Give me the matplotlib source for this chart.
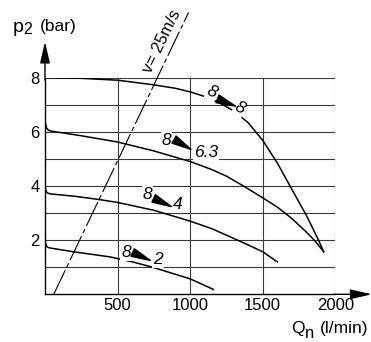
import matplotlib
matplotlib.use('Agg')
import matplotlib.pyplot as plt
from matplotlib.path import Path
from matplotlib.markers import MarkerStyle
from matplotlib.transforms import Affine2D

plt.rcParams['font.family'] = ['Liberation Sans', 'DejaVu Sans']

# pump curves, flow Q (l/min) vs outlet pressure p2 (bar)
q_8 = [0, 250, 500, 750, 900, 1000, 1100, 1200, 1300, 1400, 1500, 1600, 1700, 1800, 1880, 1920]
p_8 = [8.0, 7.97, 7.9, 7.73, 7.6, 7.47, 7.3, 7.07, 6.77, 6.33, 5.68, 4.85, 3.88, 2.92, 2.05, 1.57]

q_63 = [0, 5, 12, 25, 45, 250, 500, 750, 1000, 1150, 1250, 1366, 1500, 1600, 1700, 1800, 1860, 1920]
p_63 = [6.4, 6.25, 6.12, 6.05, 6.02, 5.85, 5.62, 5.29, 4.9, 4.6, 4.36, 4.0, 3.56, 3.22, 2.8, 2.3, 1.97, 1.57]

q_4 = [0, 5, 12, 25, 45, 200, 356, 500, 750, 1000, 1150, 1297, 1400, 1500, 1600]
p_4 = [4.0, 3.86, 3.76, 3.72, 3.70, 3.62, 3.51, 3.39, 3.1, 2.70, 2.42, 2.07, 1.82, 1.57, 1.2]

q_2 = [0, 5, 12, 25, 45, 195, 448, 600, 740, 1000, 1160]
p_2 = [2.0, 1.86, 1.76, 1.72, 1.70, 1.57, 1.38, 1.2, 1.0, 0.57, 0.18]

# velocity line v = 25 m/s
q_v = [60, 989]
p_v = [0, 10.4]

x_ticks = [500, 1000, 1500, 2000]
y_ticks = [2, 4, 6, 8]
y_grid = [1, 2, 3, 4, 5, 6, 7, 8]

# curve labels: (first text, second text, q/p of first, triangle, second, angle)
labels = [
    ('8', '8', (1152, 7.45), (1245, 7.11), (1339, 6.86), 22, -25),
    ('8', '6.3', (838, 5.67), (942, 5.54), (1109, 5.24), 30, 0),
    ('8', '4', (705, 3.70), (807, 3.42), (914, 3.32), 25, 0),
    ('8', '2', (558, 1.535), (661, 1.417), (778, 1.266), 24, 0),
]

fig = plt.figure(figsize=(3.71, 3.42), dpi=100)
ax = fig.add_axes([45 / 371, 47.7 / 342, 290.3 / 371, 216.8 / 342])
ax.set_xlim(0, 2000)
ax.set_ylim(0, 8)

for s in ['top', 'right']:
    ax.spines[s].set_visible(False)
for s in ['left', 'bottom']:
    ax.spines[s].set_linewidth(1.0)
    ax.spines[s].set_zorder(4)

ax.hlines(y_grid, 0, 2000, color='#3a3a3a', lw=0.8, zorder=1)
ax.vlines(x_ticks, 0, 8, color='#3a3a3a', lw=0.8, zorder=1)

ax.set_xticks(x_ticks)
ax.set_xticklabels([str(v) for v in x_ticks])
ax.set_yticks(y_ticks)
ax.set_yticklabels([str(v) for v in y_ticks])
ax.tick_params(length=0, labelsize=12)
ax.tick_params(axis='x', pad=3)
ax.tick_params(axis='y', pad=4)

for q, p in [(q_8, p_8), (q_63, p_63), (q_4, p_4), (q_2, p_2)]:
    ax.plot(q, p, color='black', lw=1.1, zorder=3)

ax.plot(q_v, p_v, color='black', lw=0.8, linestyle=(0, (24, 3, 4, 3)),
        clip_on=False, zorder=2)
ax.text(804, 9.35, 'v= 25m/s', rotation=64, ha='center', va='center',
        rotation_mode='anchor', fontsize=12)

# axis arrows
arrow = dict(arrowstyle='-|>,head_length=1.3,head_width=0.3', color='black',
             lw=1.0, shrinkA=0, shrinkB=0, mutation_scale=10)
ax.annotate('', xy=(0, 9.32), xytext=(0, 7.9), arrowprops=arrow,
            annotation_clip=False)
ax.annotate('', xy=(2251, 0), xytext=(1990, 0), arrowprops=arrow,
            annotation_clip=False)

tri = Path([(-1, 0.42), (1, 0), (-1, -0.42), (-1, 0.42)],
           [Path.MOVETO, Path.LINETO, Path.LINETO, Path.CLOSEPOLY])
box = dict(facecolor='white', edgecolor='none', pad=0.6)
for t1, t2, a, b, c, ang, rot in labels:
    ax.text(a[0], a[1], t1, style='italic', fontsize=12.5, ha='center',
            va='center', rotation=rot, bbox=box, zorder=5)
    ax.text(c[0], c[1], t2, style='italic', fontsize=12.5, ha='center',
            va='center', rotation=rot, bbox=box, zorder=5)
    m = MarkerStyle(tri, transform=Affine2D().rotate_deg(-ang))
    ax.plot([b[0]], [b[1]], marker=m, markersize=14, color='black',
            linestyle='none', zorder=6)

# axis titles
W, H = 371, 342
fig.text(13 / W, 1 - 31.5 / H, 'p', fontsize=14, va='baseline')
fig.text(23.5 / W, 1 - 34 / H, '2', fontsize=11.5, va='baseline')
fig.text(40 / W, 1 - 31.5 / H, '(bar)', fontsize=12.5, va='baseline')
fig.text(291 / W, 1 - 333.5 / H, 'Q', fontsize=12.5, va='baseline')
fig.text(304.5 / W, 1 - 338 / H, 'n', fontsize=12, va='baseline')
fig.text(320 / W, 1 - 333.5 / H, '(l/min)', fontsize=12.5, va='baseline')

plt.savefig('out.png', dpi=100)
